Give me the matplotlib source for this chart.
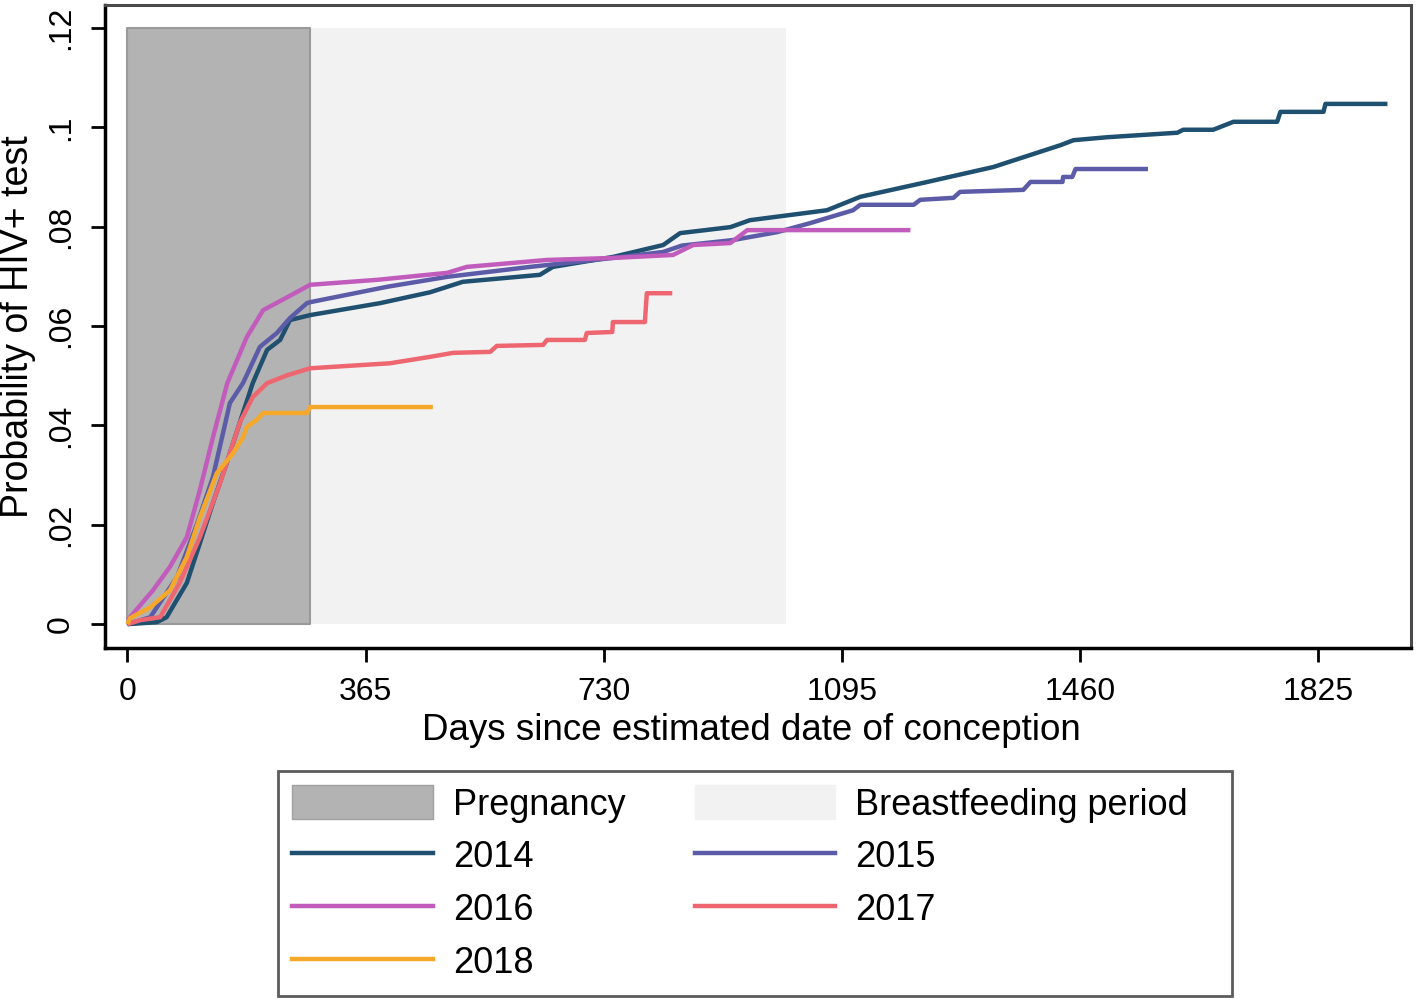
import matplotlib
matplotlib.use('Agg')
import matplotlib.pyplot as plt
from matplotlib.patches import Patch
from matplotlib.lines import Line2D

plt.rcParams['font.family'] = ['Liberation Sans', 'DejaVu Sans']

# ── data (days, cumulative probability) ──────────────────────────────────
days_2014 = [0, 45, 60, 91, 111, 131, 152, 172, 192, 214, 234, 249, 280, 387, 464, 514,
             632, 652, 744, 821, 847, 924, 954, 1072, 1123, 1226, 1327, 1430, 1450, 1502,
             1609, 1618, 1664, 1695, 1762, 1767, 1833, 1836, 1931]
prob_2014 = [0, 0.0004, 0.0014, 0.0083, 0.0163, 0.0244, 0.0324, 0.0405, 0.0485, 0.0552,
             0.0572, 0.0612, 0.0622, 0.0646, 0.0668, 0.0689, 0.0703, 0.0719, 0.0739, 0.0763,
             0.0787, 0.0799, 0.0813, 0.0833, 0.0860, 0.0890, 0.0920, 0.0964, 0.0974, 0.0980,
             0.0989, 0.0995, 0.0995, 0.1011, 0.1011, 0.1031, 0.1031, 0.1047, 0.1047]

days_2015 = [0, 35, 76, 107, 131, 157, 177, 203, 229, 249, 275, 280, 398, 490, 617, 744,
             821, 850, 928, 996, 1046, 1112, 1123, 1205, 1215, 1266, 1276, 1373, 1384, 1433,
             1434, 1448, 1453, 1564]
prob_2015 = [0, 0.0014, 0.0095, 0.0203, 0.0296, 0.0445, 0.0485, 0.0558, 0.0586, 0.0616,
             0.0646, 0.0648, 0.0679, 0.0699, 0.0719, 0.0737, 0.0749, 0.0762, 0.0773, 0.0789,
             0.0807, 0.0833, 0.0844, 0.0844, 0.0854, 0.0858, 0.0870, 0.0874, 0.0890, 0.0890,
             0.0900, 0.0900, 0.0916, 0.0916]

days_2016 = [0, 39, 65, 91, 111, 131, 153, 183, 208, 245, 280, 383, 490, 520, 643, 744,
             836, 867, 924, 950, 1200]
prob_2016 = [0.0008, 0.0068, 0.0115, 0.0175, 0.0270, 0.0376, 0.0485, 0.0578, 0.0632, 0.0658,
             0.0683, 0.0693, 0.0707, 0.0719, 0.0733, 0.0737, 0.0743, 0.0763, 0.0767, 0.0793,
             0.0793]

days_2017 = [0, 19, 50, 80, 111, 142, 172, 192, 214, 245, 280, 402, 464, 499, 556, 566,
             637, 643, 701, 704, 743, 744, 793, 796, 835]
prob_2017 = [0, 0.0008, 0.0014, 0.0083, 0.0175, 0.0284, 0.0405, 0.0457, 0.0485, 0.0501,
             0.0515, 0.0525, 0.0538, 0.0546, 0.0548, 0.0560, 0.0562, 0.0572, 0.0572, 0.0586,
             0.0588, 0.0608, 0.0608, 0.0666, 0.0666]

days_2018 = [0, 4, 35, 65, 91, 111, 137, 162, 177, 183, 198, 208, 275, 280, 468]
prob_2018 = [0, 0.0012, 0.0034, 0.0068, 0.0135, 0.0215, 0.0304, 0.0344, 0.0376, 0.0397,
             0.0411, 0.0425, 0.0425, 0.0437, 0.0437]

pregnancy_end = 280
breastfeeding_end = 1010
shade_top = 0.12

years = ['2014', '2015', '2016', '2017', '2018']
series = [(days_2014, prob_2014), (days_2015, prob_2015), (days_2016, prob_2016),
          (days_2017, prob_2017), (days_2018, prob_2018)]
colors = ['#1f5070', '#5b5ba8', '#c25cbc', '#ee6670', '#f5a82a']

xticks = [0, 365, 730, 1095, 1460, 1825]
yticks = [0, 0.02, 0.04, 0.06, 0.08, 0.10, 0.12]
ytick_labels = ['0', '.02', '.04', '.06', '.08', '.1', '.12']

# ── plot ─────────────────────────────────────────────────────────────────
fig = plt.figure(figsize=(14.18, 10.05), dpi=100)
ax = fig.add_axes([0.0740, 0.3552, 0.9210, 0.6398])

ax.fill_between([0, pregnancy_end], 0, shade_top, color='#b3b3b3',
                edgecolor='#9a9a9a', linewidth=1.5, zorder=1)
ax.fill_between([pregnancy_end, breastfeeding_end], 0, shade_top, color='#f2f2f2',
                linewidth=0, zorder=0.9)

for (d, p), c in zip(series, colors):
    ax.plot(d, p, color=c, linewidth=3.2, zorder=3, solid_capstyle='butt')

ax.set_xlim(-34.5, 1967)
ax.set_ylim(-0.0048, 0.1246)
ax.set_xticks(xticks)
ax.set_yticks(yticks)
ax.set_yticklabels(ytick_labels, rotation=90, va='center')
ax.tick_params(axis='both', length=10, width=2, labelsize=23, pad=11, color='black')

for s in ['left', 'bottom']:
    ax.spines[s].set_linewidth(2.5)
    ax.spines[s].set_color('black')
for s in ['top', 'right']:
    ax.spines[s].set_linewidth(2.2)
    ax.spines[s].set_color('#4a4a4a')

ax.set_xlabel('Days since estimated date of conception', fontsize=26.5)
ax.xaxis.set_label_coords(0.495, -0.1275)
ax.xaxis.label.set_va('center')
ax.set_ylabel('Probability of HIV+ test', fontsize=27)
ax.yaxis.set_label_coords(-0.0666, 0.5)
ax.yaxis.label.set_va('center')

handles = [Patch(facecolor='#b3b3b3', edgecolor='#a0a0a0'),
           Line2D([], [], color=colors[0], linewidth=3.2),
           Line2D([], [], color=colors[2], linewidth=3.2),
           Line2D([], [], color=colors[4], linewidth=3.2),
           Patch(facecolor='#f2f2f2', edgecolor='#f2f2f2'),
           Line2D([], [], color=colors[1], linewidth=3.2),
           Line2D([], [], color=colors[3], linewidth=3.2)]
labels = ['Pregnancy', '2014', '2016', '2018', 'Breastfeeding period   ', '2015', '2017']
leg = fig.legend(handles, labels, loc='upper left', bbox_to_anchor=(278/1418, 1 - 771/1005),
                 ncol=2, fontsize=26, frameon=True, fancybox=False, borderaxespad=0,
                 handlelength=3.9, handleheight=1.05, handletextpad=0.55,
                 columnspacing=1.9, labelspacing=0.44, borderpad=0.4)
leg.get_frame().set_edgecolor('#333333')
leg.get_frame().set_linewidth(2)

plt.savefig('out.png')
plt.close()
